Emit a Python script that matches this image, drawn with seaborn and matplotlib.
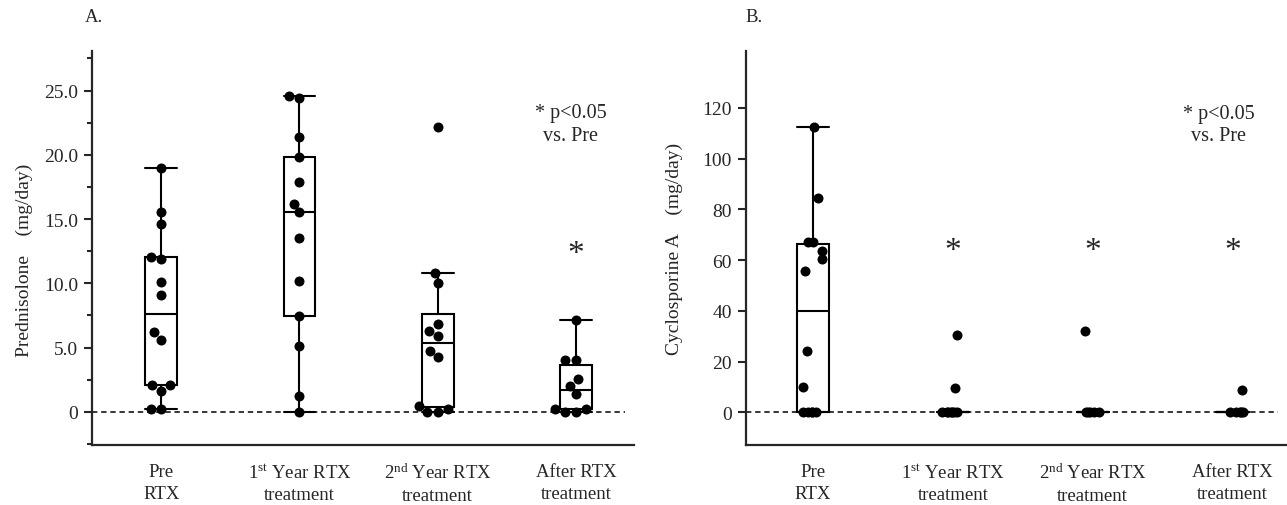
import numpy as np
import pandas as pd
import seaborn as sns
import matplotlib.pyplot as plt
from matplotlib.ticker import MultipleLocator

# group labels (x axis)
periods = [
    "Pre\nRTX",
    "1$^{\\mathrm{st}}$ Year RTX\ntreatment",
    "2$^{\\mathrm{nd}}$ Year RTX\ntreatment",
    "After RTX\ntreatment",
]

# Panel A: prednisolone dose (mg/day)
pred_pre = [18.95, 15.58, 14.62, 12.07, 11.89, 10.08, 9.11, 6.18, 5.61, 2.08, 2.08, 1.64, 0.26, 0.26]
pred_y1 = [24.56, 24.41, 21.42, 19.81, 17.87, 16.18, 15.53, 13.5, 10.2, 7.43, 5.14, 1.25, 0.0]
pred_y2 = [22.15, 10.78, 10.02, 6.83, 6.31, 5.92, 4.75, 4.24, 0.47, 0.2, 0.0, 0.0]
pred_after = [7.14, 4.03, 4.03, 2.55, 2.02, 1.38, 0.2, 0.2, 0.0, 0.0]

# Panel B: cyclosporine A dose (mg/day)
cya_pre = [112.6, 84.4, 67.3, 67.3, 63.6, 60.3, 55.7, 24.1, 9.9, 0.0, 0.0, 0.0, 0.0, 0.0]
cya_y1 = [30.3, 9.6, 0.0, 0.0, 0.0, 0.0, 0.0, 0.0, 0.0]
cya_y2 = [32.0, 0.0, 0.0, 0.0, 0.0, 0.0]
cya_after = [8.7, 0.0, 0.0, 0.0, 0.0, 0.0]

pred_ticks = [0, 5, 10, 15, 20, 25]
pred_ticklabels = ["0", "5.0", "10.0", "15.0", "20.0", "25.0"]
cya_ticks = [0, 20, 40, 60, 80, 100, 120]
cya_ticklabels = ["0", "20", "40", "60", "80", "100", "120"]

sig_A = [3]          # groups marked * in panel A
sig_B = [1, 2, 3]    # groups marked * in panel B


def long_df(groups):
    rows = []
    for name, vals in zip(periods, groups):
        for v in vals:
            rows.append((name, v))
    return pd.DataFrame(rows, columns=["period", "dose"])


df_a = long_df([pred_pre, pred_y1, pred_y2, pred_after])
df_b = long_df([cya_pre, cya_y1, cya_y2, cya_after])

sns.set_style("ticks")
plt.rcParams["font.family"] = ["Liberation Serif", "DejaVu Serif"]
plt.rcParams["mathtext.fontset"] = "custom"
plt.rcParams["mathtext.rm"] = "Liberation Serif"
plt.rcParams["mathtext.it"] = "Liberation Serif:italic"
plt.rcParams["mathtext.bf"] = "Liberation Serif:bold"

fig = plt.figure(figsize=(12.87, 5.06), dpi=100)
ax_a = fig.add_axes([0.0715, 0.1192, 0.4211, 0.7787])
ax_b = fig.add_axes([0.5796, 0.1192, 0.4204, 0.7787])


def draw_panel(ax, df, ylim, xlim, ticks, ticklabels, ylabel, label_xy, note_xy, sig, star_y, swarm):
    sns.boxplot(data=df, x="period", y="dose", order=periods, width=0.23,
                whis=1.5, showfliers=False, color="white", saturation=1,
                linecolor="black", linewidth=1.5, capwidths=0.23, ax=ax)
    if swarm:
        sns.swarmplot(data=df, x="period", y="dose", order=periods, color="black",
                      size=7.2, zorder=3, ax=ax)
    else:
        np.random.seed(3)
        sns.stripplot(data=df, x="period", y="dose", order=periods, color="black",
                      size=7.2, jitter=0.08, zorder=3, ax=ax)
    ax.axhline(0, xmin=0, xmax=0.983, color="black", lw=1.1, ls=(0, (3.5, 2.5)), zorder=1.5)

    ax.set_xlim(*xlim)
    ax.set_ylim(*ylim)
    ax.set_yticks(ticks)
    ax.set_yticklabels(ticklabels)
    ax.set_xlabel("")
    ax.set_ylabel(ylabel, fontsize=14)
    ax.yaxis.set_label_coords(*label_xy)

    sns.despine(ax=ax)
    for side in ["left", "bottom"]:
        ax.spines[side].set_linewidth(1.6)
    ax.tick_params(axis="y", direction="out", length=6, width=1.5, labelsize=14, pad=4)
    ax.tick_params(axis="y", which="minor", direction="out", length=3.5, width=1.5)
    ax.tick_params(axis="x", length=0, labelsize=13.5, pad=13)
    for lbl in ax.get_xticklabels():
        lbl.set_linespacing(1.4)

    ax.text(note_xy[0], note_xy[1], "* p<0.05\nvs. Pre", ha="center", va="center",
            fontsize=14.5, linespacing=1.25)
    for g in sig:
        ax.text(g, star_y, "*", ha="center", va="center", fontsize=24)


draw_panel(ax_a, df_a, (-2.55, 28.1), (-0.5, 3.42), pred_ticks, pred_ticklabels,
           "Prednisolone    (mg/day)", (-0.109, 0.47), (2.96, 22.4), sig_A, 12.3, True)
ax_a.yaxis.set_minor_locator(MultipleLocator(2.5))

draw_panel(ax_b, df_b, (-12.8, 142.6), (-0.48, 3.39), cya_ticks, cya_ticklabels,
           "Cyclosporine A    (mg/day)", (-0.116, 0.50), (2.9, 113.5), sig_B, 63.5, False)

fig.text(85 / 1287, 1 - 17 / 506, "A.", ha="left", va="center", fontsize=13.5)
fig.text(745 / 1287, 1 - 17 / 506, "B.", ha="left", va="center", fontsize=13.5)

fig.savefig("out.png", dpi=100)
